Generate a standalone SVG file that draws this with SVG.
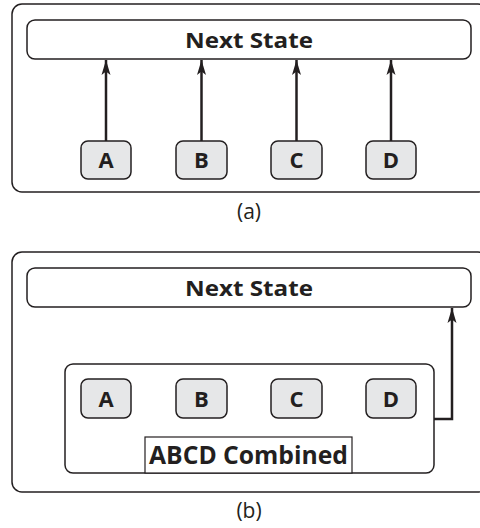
<svg xmlns="http://www.w3.org/2000/svg" width="480" height="528" viewBox="0 0 480 528">
<defs>
<style>
.frame{fill:#fff;stroke:#231f20;stroke-width:1.5}
.ns{fill:#fff;stroke:#231f20;stroke-width:1.5}
.box{fill:#e6e7e8;stroke:#231f20;stroke-width:1.5}
.t{font-family:"Open Sans","Liberation Sans",sans-serif;font-weight:bold;fill:#231f20;text-anchor:middle}
.lt{font-size:22px}
.cap{font-family:"Open Sans","Liberation Sans",sans-serif;fill:#231f20;text-anchor:middle;font-size:21px}
.wire{fill:none;stroke:#231f20;stroke-width:2.5}
</style>
<marker id="ah" viewBox="0 0 15 10" refX="15" refY="5" markerWidth="15" markerHeight="10" markerUnits="userSpaceOnUse" orient="auto">
<path d="M0,0.5 L15,5 L0,9.5 L3.5,5 Z" fill="#231f20"/>
</marker>
</defs>
<rect width="480" height="528" fill="#fff"/>
<!-- Panel (a) -->
<g id="panel-a">
<rect class="frame" x="12" y="4" width="476" height="188" rx="10"/>
<text class="cap" x="249" y="219">(a)</text>
</g>
<g id="a-next-state">
<rect class="ns" x="27" y="20" width="444" height="39" rx="8"/>
<text class="t" x="249" y="48" font-size="22" textLength="128" lengthAdjust="spacingAndGlyphs">Next State</text>
</g>
<g id="a-A"><rect class="box" x="81" y="141" width="50" height="38" rx="7"/><text class="t lt" x="106" y="168">A</text></g>
<g id="a-B"><rect class="box" x="176" y="141" width="51" height="38" rx="7"/><text class="t lt" x="201.5" y="168">B</text></g>
<g id="a-C"><rect class="box" x="271" y="141" width="51" height="38" rx="7"/><text class="t lt" x="296.5" y="168">C</text></g>
<g id="a-D"><rect class="box" x="366" y="141" width="50" height="38" rx="7"/><text class="t lt" x="391" y="168">D</text></g>
<!-- Panel (b) -->
<g id="panel-b">
<rect class="frame" x="12" y="252" width="476" height="240" rx="10"/>
<text class="cap" x="249" y="518">(b)</text>
</g>
<g id="b-next-state">
<rect class="ns" x="27" y="268" width="444" height="39" rx="8"/>
<text class="t" x="249" y="296" font-size="22" textLength="128" lengthAdjust="spacingAndGlyphs">Next State</text>
</g>
<g id="b-combined">
<rect class="frame" x="65" y="364" width="369" height="109" rx="8"/>
<rect fill="#fff" stroke="#231f20" stroke-width="1.2" x="145" y="437" width="207" height="36"/>
<text class="t" x="248.5" y="464" font-size="25" textLength="199" lengthAdjust="spacingAndGlyphs">ABCD Combined</text>
</g>
<g id="b-A"><rect class="box" x="81" y="379" width="50" height="39" rx="7"/><text class="t lt" x="106" y="406.5">A</text></g>
<g id="b-B"><rect class="box" x="176" y="379" width="51" height="39" rx="7"/><text class="t lt" x="201.5" y="406.5">B</text></g>
<g id="b-C"><rect class="box" x="271" y="379" width="51" height="39" rx="7"/><text class="t lt" x="296.5" y="406.5">C</text></g>
<g id="b-D"><rect class="box" x="366" y="379" width="50" height="39" rx="7"/><text class="t lt" x="391" y="406.5">D</text></g>
<!-- Connectors -->
<g id="connectors">
<line class="wire" x1="106" y1="141" x2="106" y2="60" marker-end="url(#ah)"/>
<line class="wire" x1="201.5" y1="141" x2="201.5" y2="60" marker-end="url(#ah)"/>
<line class="wire" x1="296.5" y1="141" x2="296.5" y2="60" marker-end="url(#ah)"/>
<line class="wire" x1="391" y1="141" x2="391" y2="60" marker-end="url(#ah)"/>
<polyline class="wire" points="434,419 452,419 452,308" marker-end="url(#ah)"/>
</g>
</svg>
